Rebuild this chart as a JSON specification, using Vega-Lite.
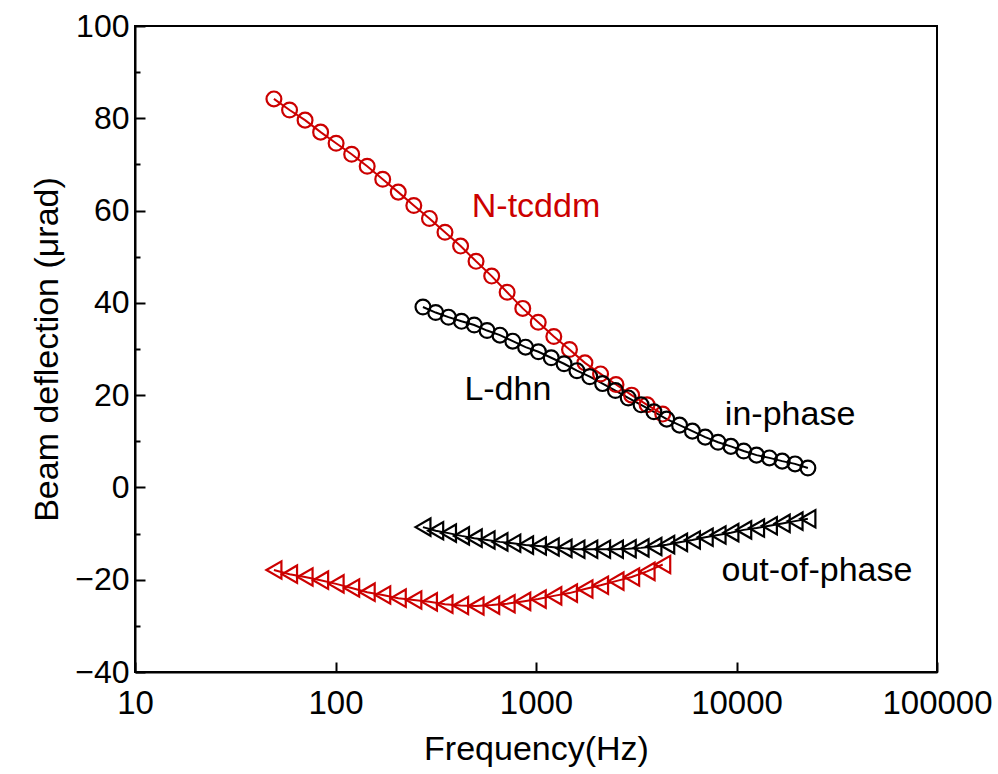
{
  "$schema": "https://vega.github.io/schema/vega-lite/v6.json",
  "width": 802,
  "height": 646,
  "autosize": "none",
  "padding": {"left": 135, "top": 26, "right": 61, "bottom": 102},
  "background": "white",
  "config": {
    "view": {"stroke": "black", "strokeWidth": 2},
    "font": "Liberation Sans",
    "axis": {"grid": false, "domainColor": "black", "domainWidth": 2, "tickColor": "black", "tickWidth": 2, "labelColor": "black", "titleColor": "black", "labelFont": "Liberation Sans", "titleFont": "Liberation Sans", "titleFontWeight": "normal"}
  },
  "datasets": {
    "curves": [
      {"sample":"N-tcddm","component":"in-phase","freq":49.3,"deflection":84.2},
      {"sample":"N-tcddm","component":"in-phase","freq":59.0,"deflection":81.8},
      {"sample":"N-tcddm","component":"in-phase","freq":70.5,"deflection":79.6},
      {"sample":"N-tcddm","component":"in-phase","freq":84.3,"deflection":77.0},
      {"sample":"N-tcddm","component":"in-phase","freq":100.7,"deflection":74.6},
      {"sample":"N-tcddm","component":"in-phase","freq":120.4,"deflection":72.2},
      {"sample":"N-tcddm","component":"in-phase","freq":143.9,"deflection":69.6},
      {"sample":"N-tcddm","component":"in-phase","freq":172.0,"deflection":66.8},
      {"sample":"N-tcddm","component":"in-phase","freq":205.6,"deflection":64.0},
      {"sample":"N-tcddm","component":"in-phase","freq":245.8,"deflection":61.1},
      {"sample":"N-tcddm","component":"in-phase","freq":294.1,"deflection":58.3},
      {"sample":"N-tcddm","component":"in-phase","freq":351.6,"deflection":55.3},
      {"sample":"N-tcddm","component":"in-phase","freq":420.7,"deflection":52.3},
      {"sample":"N-tcddm","component":"in-phase","freq":502.3,"deflection":49.0},
      {"sample":"N-tcddm","component":"in-phase","freq":601.2,"deflection":45.8},
      {"sample":"N-tcddm","component":"in-phase","freq":717.8,"deflection":42.3},
      {"sample":"N-tcddm","component":"in-phase","freq":859.0,"deflection":38.8},
      {"sample":"N-tcddm","component":"in-phase","freq":1026,"deflection":35.8},
      {"sample":"N-tcddm","component":"in-phase","freq":1227,"deflection":32.7},
      {"sample":"N-tcddm","component":"in-phase","freq":1469,"deflection":29.9},
      {"sample":"N-tcddm","component":"in-phase","freq":1754,"deflection":27.0},
      {"sample":"N-tcddm","component":"in-phase","freq":2099,"deflection":24.6},
      {"sample":"N-tcddm","component":"in-phase","freq":2506,"deflection":22.3},
      {"sample":"N-tcddm","component":"in-phase","freq":2999,"deflection":20.0},
      {"sample":"N-tcddm","component":"in-phase","freq":3581,"deflection":17.9},
      {"sample":"N-tcddm","component":"in-phase","freq":4285,"deflection":15.9},
      {"sample":"N-tcddm","component":"out-of-phase","freq":49.3,"deflection":-17.9},
      {"sample":"N-tcddm","component":"out-of-phase","freq":59.0,"deflection":-18.8},
      {"sample":"N-tcddm","component":"out-of-phase","freq":70.5,"deflection":-19.4},
      {"sample":"N-tcddm","component":"out-of-phase","freq":84.3,"deflection":-20.1},
      {"sample":"N-tcddm","component":"out-of-phase","freq":100.7,"deflection":-20.9},
      {"sample":"N-tcddm","component":"out-of-phase","freq":120.4,"deflection":-21.8},
      {"sample":"N-tcddm","component":"out-of-phase","freq":143.9,"deflection":-22.7},
      {"sample":"N-tcddm","component":"out-of-phase","freq":172.0,"deflection":-23.3},
      {"sample":"N-tcddm","component":"out-of-phase","freq":205.6,"deflection":-24.0},
      {"sample":"N-tcddm","component":"out-of-phase","freq":245.8,"deflection":-24.4},
      {"sample":"N-tcddm","component":"out-of-phase","freq":294.1,"deflection":-24.8},
      {"sample":"N-tcddm","component":"out-of-phase","freq":351.6,"deflection":-25.3},
      {"sample":"N-tcddm","component":"out-of-phase","freq":420.7,"deflection":-25.6},
      {"sample":"N-tcddm","component":"out-of-phase","freq":502.3,"deflection":-25.7},
      {"sample":"N-tcddm","component":"out-of-phase","freq":601.2,"deflection":-25.5},
      {"sample":"N-tcddm","component":"out-of-phase","freq":717.8,"deflection":-25.2},
      {"sample":"N-tcddm","component":"out-of-phase","freq":859.0,"deflection":-24.7},
      {"sample":"N-tcddm","component":"out-of-phase","freq":1026,"deflection":-24.2},
      {"sample":"N-tcddm","component":"out-of-phase","freq":1227,"deflection":-23.5},
      {"sample":"N-tcddm","component":"out-of-phase","freq":1469,"deflection":-22.9},
      {"sample":"N-tcddm","component":"out-of-phase","freq":1754,"deflection":-22.0},
      {"sample":"N-tcddm","component":"out-of-phase","freq":2099,"deflection":-21.2},
      {"sample":"N-tcddm","component":"out-of-phase","freq":2506,"deflection":-20.3},
      {"sample":"N-tcddm","component":"out-of-phase","freq":2999,"deflection":-19.4},
      {"sample":"N-tcddm","component":"out-of-phase","freq":3581,"deflection":-18.2},
      {"sample":"N-tcddm","component":"out-of-phase","freq":4285,"deflection":-16.7},
      {"sample":"L-dhn","component":"in-phase","freq":273,"deflection":39.1},
      {"sample":"L-dhn","component":"in-phase","freq":316,"deflection":37.9},
      {"sample":"L-dhn","component":"in-phase","freq":366,"deflection":36.9},
      {"sample":"L-dhn","component":"in-phase","freq":425,"deflection":36.0},
      {"sample":"L-dhn","component":"in-phase","freq":492,"deflection":35.2},
      {"sample":"L-dhn","component":"in-phase","freq":570,"deflection":34.0},
      {"sample":"L-dhn","component":"in-phase","freq":661,"deflection":33.0},
      {"sample":"L-dhn","component":"in-phase","freq":766,"deflection":31.7},
      {"sample":"L-dhn","component":"in-phase","freq":887,"deflection":30.4},
      {"sample":"L-dhn","component":"in-phase","freq":1028,"deflection":29.4},
      {"sample":"L-dhn","component":"in-phase","freq":1191,"deflection":28.1},
      {"sample":"L-dhn","component":"in-phase","freq":1380,"deflection":26.8},
      {"sample":"L-dhn","component":"in-phase","freq":1600,"deflection":25.3},
      {"sample":"L-dhn","component":"in-phase","freq":1854,"deflection":24.0},
      {"sample":"L-dhn","component":"in-phase","freq":2148,"deflection":22.5},
      {"sample":"L-dhn","component":"in-phase","freq":2489,"deflection":21.0},
      {"sample":"L-dhn","component":"in-phase","freq":2884,"deflection":19.4},
      {"sample":"L-dhn","component":"in-phase","freq":3342,"deflection":17.9},
      {"sample":"L-dhn","component":"in-phase","freq":3873,"deflection":16.4},
      {"sample":"L-dhn","component":"in-phase","freq":4487,"deflection":14.8},
      {"sample":"L-dhn","component":"in-phase","freq":5200,"deflection":13.5},
      {"sample":"L-dhn","component":"in-phase","freq":6026,"deflection":12.2},
      {"sample":"L-dhn","component":"in-phase","freq":6982,"deflection":10.9},
      {"sample":"L-dhn","component":"in-phase","freq":8091,"deflection":9.8},
      {"sample":"L-dhn","component":"in-phase","freq":9376,"deflection":8.9},
      {"sample":"L-dhn","component":"in-phase","freq":10864,"deflection":7.9},
      {"sample":"L-dhn","component":"in-phase","freq":12589,"deflection":7.0},
      {"sample":"L-dhn","component":"in-phase","freq":14588,"deflection":6.4},
      {"sample":"L-dhn","component":"in-phase","freq":16904,"deflection":5.7},
      {"sample":"L-dhn","component":"in-phase","freq":19588,"deflection":5.1},
      {"sample":"L-dhn","component":"in-phase","freq":22699,"deflection":4.2},
      {"sample":"L-dhn","component":"out-of-phase","freq":273,"deflection":-8.6},
      {"sample":"L-dhn","component":"out-of-phase","freq":316,"deflection":-9.4},
      {"sample":"L-dhn","component":"out-of-phase","freq":366,"deflection":-9.9},
      {"sample":"L-dhn","component":"out-of-phase","freq":425,"deflection":-10.5},
      {"sample":"L-dhn","component":"out-of-phase","freq":492,"deflection":-11.0},
      {"sample":"L-dhn","component":"out-of-phase","freq":570,"deflection":-11.4},
      {"sample":"L-dhn","component":"out-of-phase","freq":661,"deflection":-11.8},
      {"sample":"L-dhn","component":"out-of-phase","freq":766,"deflection":-12.1},
      {"sample":"L-dhn","component":"out-of-phase","freq":887,"deflection":-12.5},
      {"sample":"L-dhn","component":"out-of-phase","freq":1028,"deflection":-12.7},
      {"sample":"L-dhn","component":"out-of-phase","freq":1191,"deflection":-12.9},
      {"sample":"L-dhn","component":"out-of-phase","freq":1380,"deflection":-13.2},
      {"sample":"L-dhn","component":"out-of-phase","freq":1600,"deflection":-13.4},
      {"sample":"L-dhn","component":"out-of-phase","freq":1854,"deflection":-13.4},
      {"sample":"L-dhn","component":"out-of-phase","freq":2148,"deflection":-13.4},
      {"sample":"L-dhn","component":"out-of-phase","freq":2489,"deflection":-13.4},
      {"sample":"L-dhn","component":"out-of-phase","freq":2884,"deflection":-13.3},
      {"sample":"L-dhn","component":"out-of-phase","freq":3342,"deflection":-13.1},
      {"sample":"L-dhn","component":"out-of-phase","freq":3873,"deflection":-12.8},
      {"sample":"L-dhn","component":"out-of-phase","freq":4487,"deflection":-12.4},
      {"sample":"L-dhn","component":"out-of-phase","freq":5200,"deflection":-11.9},
      {"sample":"L-dhn","component":"out-of-phase","freq":6026,"deflection":-11.4},
      {"sample":"L-dhn","component":"out-of-phase","freq":6982,"deflection":-10.8},
      {"sample":"L-dhn","component":"out-of-phase","freq":8091,"deflection":-10.3},
      {"sample":"L-dhn","component":"out-of-phase","freq":9376,"deflection":-9.8},
      {"sample":"L-dhn","component":"out-of-phase","freq":10864,"deflection":-9.2},
      {"sample":"L-dhn","component":"out-of-phase","freq":12589,"deflection":-8.8},
      {"sample":"L-dhn","component":"out-of-phase","freq":14588,"deflection":-8.3},
      {"sample":"L-dhn","component":"out-of-phase","freq":16904,"deflection":-7.8},
      {"sample":"L-dhn","component":"out-of-phase","freq":19588,"deflection":-7.3},
      {"sample":"L-dhn","component":"out-of-phase","freq":22699,"deflection":-6.8}
    ],
    "labels": [
      {"text":"N-tcddm","sample":"N-tcddm","freq":1000,"deflection":60.8},
      {"text":"L-dhn","sample":"L-dhn","freq":724,"deflection":21.1},
      {"text":"in-phase","sample":"L-dhn","freq":18500,"deflection":15.7},
      {"text":"out-of-phase","sample":"L-dhn","freq":25200,"deflection":-18.1}
    ]
  },
  "encoding": {
    "x": {"field":"freq","type":"quantitative","scale":{"type":"log","domain":[10,100000],"nice":false},
      "axis":{"title":"Frequency(Hz)","values":[10,100,1000,10000,100000],"format":"d","tickSize":-10,"labelPadding":25,"labelFontSize":33,"titleFontSize":34,"titlePadding":12,"labelFlush":false}},
    "y": {"field":"deflection","type":"quantitative","scale":{"domain":[-40,100],"nice":false,"zero":false},
      "axis":{"title":"Beam deflection (μrad)","values":[-40,-30,-20,-10,0,10,20,30,40,50,60,70,80,90,100],
        "labelExpr":"datum.value % 20 === 0 ? datum.label : ''",
        "tickSize":{"condition":{"test":"datum.value % 20 === 0","value":-10},"value":-5},
        "labelPadding":16,"labelFontSize":32,"titleFontSize":34,"titlePadding":10}},
    "color": {"field":"sample","type":"nominal","scale":{"domain":["N-tcddm","L-dhn"],"range":["#cc0000","#000000"]},"legend":null}
  },
  "layer": [
    {"data":{"name":"curves"},"mark":{"type":"line","strokeWidth":2},"encoding":{"detail":{"field":"component","type":"nominal"}}},
    {"data":{"name":"curves"},"mark":{"type":"point","filled":false,"strokeWidth":2.2,"opacity":1},
      "encoding":{
        "shape":{"field":"component","type":"nominal","scale":{"domain":["in-phase","out-of-phase"],"range":["circle","triangle-left"]},"legend":null},
        "size":{"field":"component","type":"nominal","scale":{"domain":["in-phase","out-of-phase"],"range":[220,300]},"legend":null}}},
    {"data":{"name":"labels"},"mark":{"type":"text","fontSize":34,"font":"Liberation Sans"},"encoding":{"text":{"field":"text","type":"nominal"}}}
  ]
}
